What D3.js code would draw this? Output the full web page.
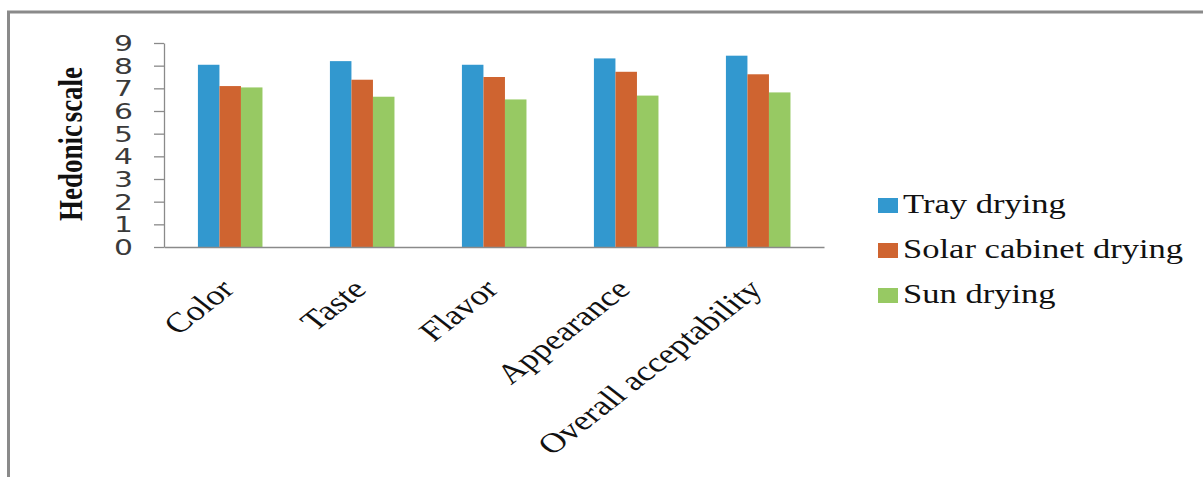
<!DOCTYPE html>
<html>
<head>
<meta charset="utf-8">
<script src="https://cdn.jsdelivr.net/npm/d3@7"></script>
<style>
  html, body { margin: 0; padding: 0; background: #fff; }
  svg { display: block; }
</style>
</head>
<body>
<svg id="chart" width="1203" height="477"></svg>
<script>
// Sensory scores (9-point hedonic scale) by drying method
const categories = ["Color", "Taste", "Flavor", "Appearance", "Overall acceptability"];
const seriesNames = ["Tray drying", "Solar cabinet drying", "Sun drying"];
const trayDrying = [8.04, 8.20, 8.04, 8.32, 8.44];
const solarCabinetDrying = [7.10, 7.38, 7.50, 7.73, 7.62];
const sunDrying = [7.04, 6.63, 6.51, 6.68, 6.82];
const yTicks = [0, 1, 2, 3, 4, 5, 6, 7, 8, 9];
const seriesColors = ["#3298cf", "#cf6430", "#97c963"];

const seriesValues = [trayDrying, solarCabinetDrying, sunDrying];
const rows = categories.map((c, i) => ({
  category: c,
  values: seriesNames.map((s, k) => ({ series: s, value: seriesValues[k][i] }))
}));

const svg = d3.select("#chart");
const stretch = 1.28; // wide typeface look

// Frame around the figure
svg.append("rect")
  .attr("x", 8.5).attr("y", 12)
  .attr("width", 1300).attr("height", 600)
  .attr("fill", "none").attr("stroke", "#8a8a8a").attr("stroke-width", 3);

const plot = { left: 164, right: 824, top: 43, bottom: 247 };

const x = d3.scaleBand().domain(categories).range([plot.left, plot.right]);
const x1 = d3.scaleBand().domain(seriesNames)
  .range([x.bandwidth() * 0.257, x.bandwidth() * 0.746]);
const y = d3.scaleLinear().domain([0, 9]).range([plot.bottom, plot.top]);
const color = d3.scaleOrdinal().domain(seriesNames).range(seriesColors);

// Bars
const groups = svg.append("g").selectAll("g").data(rows).join("g")
  .attr("transform", d => `translate(${x(d.category)},0)`);
groups.selectAll("rect").data(d => d.values).join("rect")
  .attr("x", d => x1(d.series))
  .attr("width", x1.bandwidth())
  .attr("y", d => y(d.value))
  .attr("height", d => y(0) - y(d.value))
  .attr("fill", d => color(d.series));

// Value axis
const yAxis = svg.append("g")
  .attr("transform", `translate(${plot.left},0)`)
  .call(d3.axisLeft(y).tickValues(yTicks).tickFormat(d3.format("d")).tickSize(10).tickSizeOuter(0));
yAxis.select(".domain").attr("stroke", "#8a8a8a").attr("stroke-width", 1.3);
yAxis.selectAll(".tick line").attr("stroke", "#8a8a8a").attr("stroke-width", 1.3);
yAxis.selectAll(".tick text")
  .attr("x", null).attr("dy", "0.36em")
  .attr("text-anchor", "end")
  .attr("transform", `translate(-31,0) scale(1.42,1)`)
  .attr("fill", "#3a3a3a")
  .style("font-family", "'DejaVu Sans', sans-serif")
  .style("font-size", "21px");

// Category axis baseline
const xAxis = svg.append("g")
  .attr("transform", `translate(0,${plot.bottom})`)
  .call(d3.axisBottom(x).tickSize(0).tickFormat(""));
xAxis.select(".domain").attr("stroke", "#8a8a8a").attr("stroke-width", 1.3);

// Rotated category labels
svg.append("g").selectAll("text").data(categories).join("text")
  .attr("transform", d => `translate(${x(d) + x.bandwidth() / 2 + 6},291) scale(${stretch},1) rotate(-45)`)
  .attr("text-anchor", "end")
  .attr("fill", "#111")
  .style("font-family", "'Liberation Serif', 'Times New Roman', serif")
  .style("font-size", "28px")
  .text(d => d);

// Axis title
svg.append("text")
  .attr("transform", `translate(70,144) scale(${stretch},1) rotate(-90)`)
  .attr("text-anchor", "middle")
  .attr("dy", "0.35em")
  .attr("fill", "#111")
  .style("font-family", "'Liberation Serif', 'Times New Roman', serif")
  .style("font-weight", "bold")
  .style("font-size", "27px")
  .style("word-spacing", "-4px")
  .text("Hedonic scale");

// Legend
const legend = svg.append("g").selectAll("g").data(seriesNames).join("g")
  .attr("transform", (d, i) => `translate(878,${213 + i * 45})`);
legend.append("rect")
  .attr("x", 0).attr("y", -15)
  .attr("width", 20).attr("height", 15)
  .attr("fill", d => color(d));
legend.append("text")
  .attr("transform", `translate(25,0) scale(${stretch},1)`)
  .attr("fill", "#111")
  .style("font-family", "'Liberation Serif', 'Times New Roman', serif")
  .style("font-size", "27px")
  .text(d => d);
</script>
</body>
</html>
